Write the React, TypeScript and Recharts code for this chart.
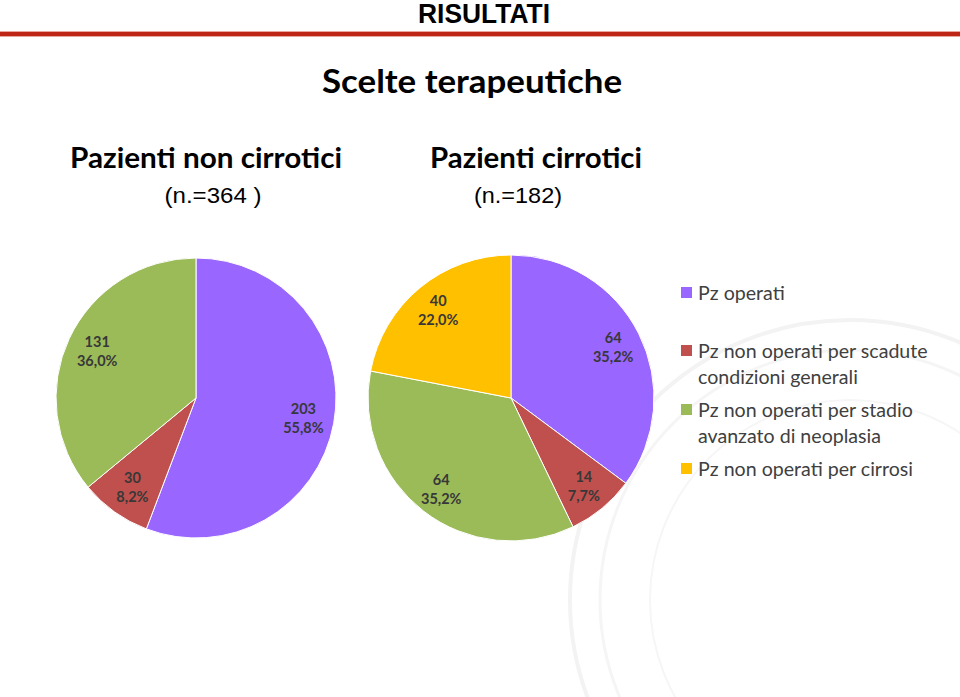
import { PieChart, Pie, Cell } from "recharts";

const categories = [
  "Pz operati",
  "Pz non operati per scadute condizioni generali",
  "Pz non operati per stadio avanzato di neoplasia",
  "Pz non operati per cirrosi",
];
const colors = ["#9966FF", "#C0504D", "#9BBB59", "#FFC000"];

const nonCirroticiValues = [203, 30, 131];
const nonCirroticiPct = ["55,8%", "8,2%", "36,0%"];
const cirroticiValues = [64, 14, 64, 40];
const cirroticiPct = ["35,2%", "7,7%", "35,2%", "22,0%"];

const legendLines = [
  ["Pz operati"],
  ["Pz non operati per scadute", "condizioni generali"],
  ["Pz non operati per stadio", "avanzato di neoplasia"],
  ["Pz non operati per cirrosi"],
];

const nonCirrotici = nonCirroticiValues.map((v, i) => ({
  name: categories[i],
  value: v,
  pct: nonCirroticiPct[i],
}));
const cirrotici = cirroticiValues.map((v, i) => ({
  name: categories[i],
  value: v,
  pct: cirroticiPct[i],
}));

const RAD = Math.PI / 180;
const labelFont = "Lato, 'Open Sans', sans-serif";

function makeLabel(factor: number) {
  return (props: any) => {
    const { cx, cy, midAngle, outerRadius, payload, index } = props;
    const r = outerRadius * factor;
    const x = cx + r * Math.cos(-midAngle * RAD);
    const y = cy + r * Math.sin(-midAngle * RAD);
    const d = payload?.payload ?? payload;
    return (
      <text
        key={index}
        x={x}
        y={y}
        textAnchor="middle"
        fill="#383838"
        fontFamily={labelFont}
        fontWeight={700}
        fontSize={14.5}
      >
        <tspan x={x} dy={-4}>{d.value}</tspan>
        <tspan x={x} dy={19}>{d.pct}</tspan>
      </text>
    );
  };
}

export default function App() {
  const legendY = [293, 351, 410, 469];
  return (
    <div
      style={{
        position: "absolute",
        left: 0,
        top: 0,
        width: 960,
        height: 697,
        background: "#fff",
        overflow: "hidden",
      }}
    >
      <svg
        width={960}
        height={697}
        style={{ position: "absolute", left: 0, top: 0 }}
      >
        {/* faint seal watermark */}
        <circle cx={850} cy={600} r={280} fill="none" stroke="#f3f3f3" strokeWidth={4} />
        <circle cx={850} cy={600} r={250} fill="none" stroke="#f5f5f5" strokeWidth={3} />
        <circle cx={850} cy={600} r={200} fill="none" stroke="#f6f6f6" strokeWidth={2} />

        <text
          x={484}
          y={23}
          textAnchor="middle"
          fontFamily="'Liberation Sans Narrow', 'Liberation Sans', sans-serif"
          fontWeight={700}
          fontSize={27}
          textLength={132}
          lengthAdjust="spacingAndGlyphs"
          fill="#000"
        >
          RISULTATI
        </text>
        <rect x={0} y={31} width={960} height={6} fill="#e8a79f" />
        <rect x={0} y={32} width={960} height={4} fill="#bf2515" />

        <text
          x={472}
          y={93}
          textAnchor="middle"
          fontFamily={labelFont}
          fontWeight={700}
          fontSize={32}
          textLength={300}
          lengthAdjust="spacingAndGlyphs"
          fill="#000"
        >
          Scelte terapeutiche
        </text>

        <text
          x={206}
          y={168}
          textAnchor="middle"
          fontFamily={labelFont}
          fontWeight={700}
          fontSize={28}
          textLength={272}
          lengthAdjust="spacingAndGlyphs"
          fill="#000"
        >
          Pazienti non cirrotici
        </text>
        <text
          x={213}
          y={203}
          textAnchor="middle"
          fontFamily="'Liberation Sans', Arial, sans-serif"
          fontSize={22}
          textLength={97}
          lengthAdjust="spacingAndGlyphs"
          fill="#000"
        >
          (n.=364 )
        </text>

        <text
          x={536}
          y={168}
          textAnchor="middle"
          fontFamily={labelFont}
          fontWeight={700}
          fontSize={28}
          textLength={212}
          lengthAdjust="spacingAndGlyphs"
          fill="#000"
        >
          Pazienti cirrotici
        </text>
        <text
          x={518}
          y={203}
          textAnchor="middle"
          fontFamily="'Liberation Sans', Arial, sans-serif"
          fontSize={22}
          textLength={88}
          lengthAdjust="spacingAndGlyphs"
          fill="#000"
        >
          (n.=182)
        </text>

        {legendLines.map((lines, i) => (
          <g key={i}>
            <rect x={681} y={legendY[i] - 6} width={11} height={11} fill={colors[i]} />
            {lines.map((ln, j) => (
              <text
                key={j}
                x={698}
                y={legendY[i] + 7 + j * 26}
                fontFamily={labelFont}
                fontSize={19.6}
                fill="#404040"
              >
                {ln}
              </text>
            ))}
          </g>
        ))}
      </svg>

      <div style={{ position: "absolute", left: 0, top: 0 }}>
        <PieChart
          width={960}
          height={697}
          margin={{ top: 0, right: 0, bottom: 0, left: 0 }}
        >
          <Pie
            data={nonCirrotici}
            dataKey="value"
            nameKey="name"
            cx={196}
            cy={398}
            outerRadius={140}
            startAngle={90}
            endAngle={-270}
            stroke="#fff"
            strokeWidth={1}
            label={makeLabel(0.78)}
            labelLine={false}
            isAnimationActive={false}
          >
            {nonCirrotici.map((_, i) => (
              <Cell key={i} fill={colors[i]} />
            ))}
          </Pie>
          <Pie
            data={cirrotici}
            dataKey="value"
            nameKey="name"
            cx={511}
            cy={398}
            outerRadius={143}
            startAngle={90}
            endAngle={-270}
            stroke="#fff"
            strokeWidth={1}
            label={makeLabel(0.8)}
            labelLine={false}
            isAnimationActive={false}
          >
            {cirrotici.map((_, i) => (
              <Cell key={i} fill={colors[i]} />
            ))}
          </Pie>
        </PieChart>
      </div>
    </div>
  );
}
